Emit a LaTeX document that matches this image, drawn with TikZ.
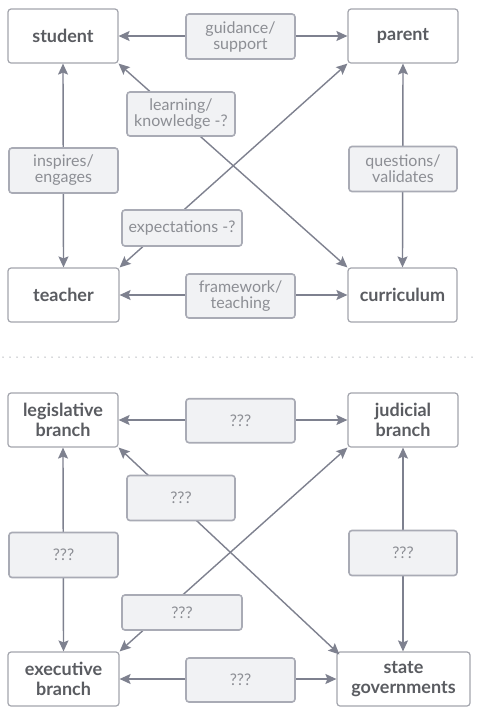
\documentclass[tikz,border=0pt]{standalone}
\usepackage{fontspec}
\setmainfont{Lato}
\usetikzlibrary{arrows.meta}
\definecolor{boxborder}{HTML}{A3A5AD}
\definecolor{nodetext}{HTML}{5A5C61}
\definecolor{lblfill}{HTML}{F1F2F4}
\definecolor{lblborder}{HTML}{A9ABB5}
\definecolor{lbltext}{HTML}{8C8E94}
\definecolor{arrowc}{HTML}{7E818F}
\definecolor{dotc}{HTML}{B0B2B8}
\begin{document}
\begin{tikzpicture}[x=1pt,y=-1pt,
  mainbox/.style={draw=boxborder, line width=1.2pt, fill=white, rounded corners=3pt,
    minimum width=110pt, minimum height=54pt, inner sep=0pt, align=center,
    text=nodetext, font=\fontsize{18}{20}\selectfont\bfseries},
  lbl/.style={draw=lblborder, line width=1.6pt, fill=lblfill, rounded corners=3pt,
    minimum width=108pt, minimum height=44pt, inner sep=0pt, align=center,
    text=lbltext, font=\fontsize{16}{16}\selectfont},
  conn/.style={draw=arrowc, line width=1.4pt,
    {Stealth[length=11pt,width=10pt,inset=2pt]}-{Stealth[length=11pt,width=10pt,inset=2pt]}}
]
\useasboundingbox (0,0) rectangle (478,716);
\fill[white] (0,0) rectangle (478,716);

% top diagram main nodes
\node[mainbox] (student) at (63,36) {student};
\node[mainbox] (parent) at (403,36) {parent};
\node[mainbox, minimum width=111pt] (teacher) at (63.5,295) {teacher};
\node[mainbox, minimum width=109pt] (curriculum) at (402.5,295) {curriculum};

\draw[conn] (student.east) -- (parent.west);
\draw[conn] (teacher.east) -- (curriculum.west);
\draw[conn] (student.south) -- (teacher.north);
\draw[conn] (parent.south) -- (curriculum.north);
\draw[conn] (student.south east) -- (curriculum.north west);
\draw[conn] (teacher.north east) -- (parent.south west);

\node[lbl, minimum width=109pt, minimum height=45pt] (guidance) at (240.5,36.5) {guidance/\\support};
\node[lbl] (learning) at (181,114) {learning/\\knowledge -?};
\node[lbl, minimum width=109pt, minimum height=45pt] (inspires) at (63.5,170.5) {inspires/\\engages};
\node[lbl, minimum height=45pt] (questions) at (403,169) {questions/\\validates};
\node[lbl, minimum width=120pt, minimum height=36pt] (expectations) at (182,228) {expectations -?};
\node[lbl, minimum width=109pt] (framework) at (240.5,296) {framework/\\teaching};

% separator
\draw[dotc, line width=1.5pt, line cap=round, dash pattern=on 0pt off 7pt] (3,357) -- (478,357);

% bottom diagram main nodes
\node[mainbox] (legislative) at (63,420) {legislative\\branch};
\node[mainbox] (judicial) at (403,420) {judicial\\branch};
\node[mainbox, minimum width=111pt] (executive) at (63.5,679) {executive\\branch};
\node[mainbox, minimum width=133pt] (state) at (403.5,679) {state\\governments};

\draw[conn] (legislative.east) -- (judicial.west);
\draw[conn] (executive.east) -- (state.west);
\draw[conn] (legislative.south) -- (executive.north);
\draw[conn] (judicial.south) -- (judicial.south |- state.north);
\draw[conn] (legislative.south east) -- ([xshift=3pt,yshift=-3pt]state.north west);
\draw[conn] (executive.north east) -- (judicial.south west);

\node[lbl, minimum width=109pt] (q1) at (240.5,420.7) {???};
\node[lbl, minimum height=45pt] (q2) at (181,498) {???};
\node[lbl, minimum width=109pt, minimum height=45pt] (q3) at (63.5,555) {???};
\node[lbl, minimum height=45pt] (q4) at (403,553) {???};
\node[lbl, minimum width=120pt, minimum height=35pt] (q5) at (182,612.5) {???};
\node[lbl, minimum width=109pt] (q6) at (240.5,680) {???};
\end{tikzpicture}
\end{document}
